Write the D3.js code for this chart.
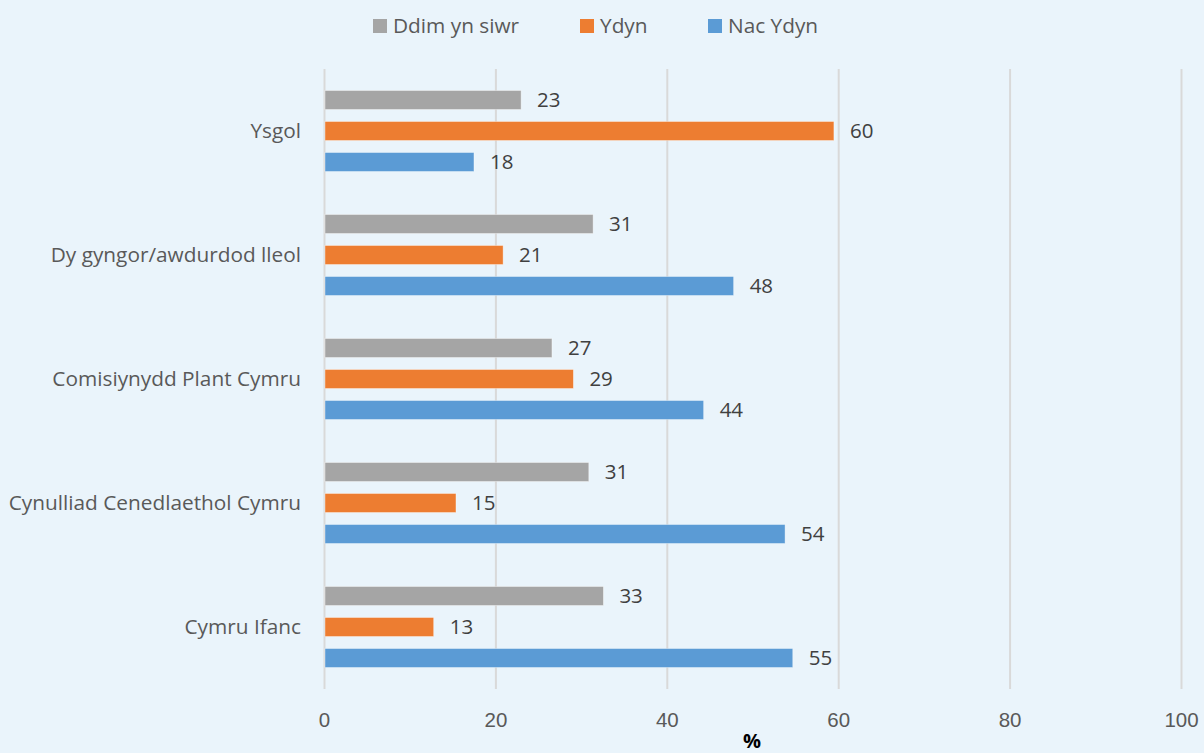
<!DOCTYPE html>
<html>
<head>
<meta charset="utf-8">
<script src="https://cdn.jsdelivr.net/npm/d3@7"></script>
<style>
  body { margin: 0; background: #eaf4fb; }
  svg { display: block; font-family: "Open Sans", sans-serif; }
</style>
</head>
<body>
<div id="chart"></div>
<script>
// Categories (top to bottom) and the three answer series
var categories = [
  "Ysgol",
  "Dy gyngor/awdurdod lleol",
  "Comisiynydd Plant Cymru",
  "Cynulliad Cenedlaethol Cymru",
  "Cymru Ifanc"
];
var seriesNames = ["Ddim yn siwr", "Ydyn", "Nac Ydyn"];
var seriesColors = ["#a5a5a5", "#ed7d31", "#5b9bd5"];

// Percent values
var ddimYnSiwr = [23.0, 31.4, 26.6, 30.9, 32.6];
var ydyn = [59.5, 20.9, 29.1, 15.4, 12.8];
var nacYdyn = [17.5, 47.8, 44.3, 53.8, 54.7];
var xTicks = [0, 20, 40, 60, 80, 100];

var seriesValues = [ddimYnSiwr, ydyn, nacYdyn];

var width = 1204, height = 753;

var svg = d3.select("#chart").append("svg")
  .attr("width", width)
  .attr("height", height);

svg.append("rect")
  .attr("width", width)
  .attr("height", height)
  .attr("fill", "#eaf4fb");

// Scales
var x = d3.scaleLinear().domain([0, 100]).range([324, 1181]);
var y = d3.scaleBand().domain(categories).range([69, 689]);
var y1 = d3.scaleBand().domain(seriesNames)
  .range([15.5, 108.5])
  .paddingInner(12 / 31)
  .paddingOuter(6 / 31);

// Gridlines + tick labels
var xAxis = svg.append("g")
  .attr("transform", "translate(0,689)")
  .call(d3.axisBottom(x).tickValues(xTicks).tickSizeInner(-620).tickSizeOuter(0).tickPadding(23));
xAxis.select(".domain").remove();
xAxis.selectAll(".tick line").attr("stroke", "#d9d9d9").attr("stroke-width", 2);
xAxis.selectAll(".tick text")
  .attr("fill", "#595959")
  .style("font-size", "20.5px");

// Category labels
svg.append("g").selectAll("text")
  .data(categories)
  .join("text")
  .attr("x", 301)
  .attr("y", function (d) { return y(d) + y.bandwidth() / 2; })
  .attr("dy", "0.35em")
  .attr("text-anchor", "end")
  .attr("fill", "#595959")
  .style("font-size", "20.8px")
  .text(function (d) { return d; });

// Bars and value labels
var rows = [];
categories.forEach(function (c, i) {
  seriesNames.forEach(function (s, j) {
    rows.push({ cat: c, series: s, color: seriesColors[j], value: seriesValues[j][i] });
  });
});

var bars = svg.append("g");
bars.selectAll("rect")
  .data(rows)
  .join("rect")
  .attr("x", x(0) + 1)
  .attr("y", function (d) { return y(d.cat) + y1(d.series); })
  .attr("width", function (d) { return x(d.value) - x(0) - 1; })
  .attr("height", y1.bandwidth())
  .attr("fill", function (d) { return d.color; })
  .attr("stroke", "#ffffff")
  .attr("stroke-opacity", 0.5)
  .attr("stroke-width", 0.75);

bars.selectAll("text")
  .data(rows)
  .join("text")
  .attr("x", function (d) { return x(d.value) + 16; })
  .attr("y", function (d) { return y(d.cat) + y1(d.series) + y1.bandwidth() / 2; })
  .attr("dy", "0.36em")
  .attr("fill", "#404040")
  .style("font-size", "20.5px")
  .text(function (d) { return Math.round(d.value); });

// Legend
var legendX = [373, 580, 708];
var legend = svg.append("g").selectAll("g")
  .data(seriesNames)
  .join("g")
  .attr("transform", function (d, i) { return "translate(" + legendX[i] + ",0)"; });
legend.append("rect")
  .attr("y", 19)
  .attr("width", 14)
  .attr("height", 14)
  .attr("fill", function (d, i) { return seriesColors[i]; });
legend.append("text")
  .attr("x", 20)
  .attr("y", 26)
  .attr("dy", "0.35em")
  .attr("fill", "#595959")
  .style("font-size", "20.8px")
  .text(function (d) { return d; });

// Axis title
svg.append("text")
  .attr("x", 752)
  .attr("y", 748)
  .attr("text-anchor", "middle")
  .attr("fill", "#000")
  .style("font-size", "20px")
  .style("font-weight", "bold")
  .text("%");
</script>
</body>
</html>
